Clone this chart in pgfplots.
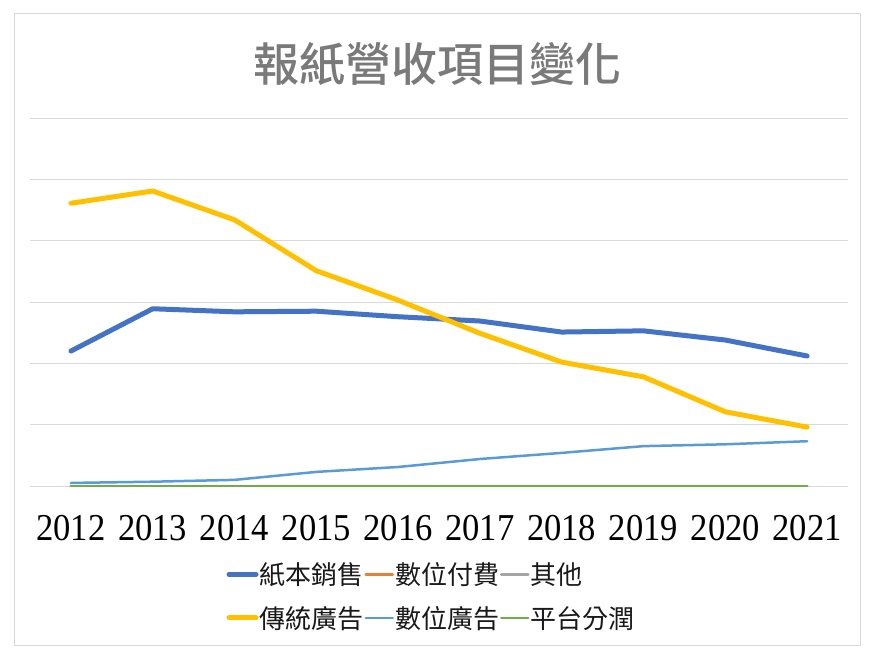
\documentclass[border=0pt]{standalone}
\usepackage{pgfplots}
\pgfplotsset{compat=1.18}
\usepackage{fontspec}
\setmainfont{Liberation Sans}
\newfontfamily\cjk{Noto Sans CJK TC}
\newfontfamily\cjkmed{Noto Sans CJK TC Medium}
\newfontfamily\tickfont{Liberation Serif}
\definecolor{xlBlue}{HTML}{4472C4}
\definecolor{xlOrange}{HTML}{ED7D31}
\definecolor{xlGray}{HTML}{A5A5A5}
\definecolor{xlYellow}{HTML}{FFC000}
\definecolor{xlLtBlue}{HTML}{5B9BD5}
\definecolor{xlGreen}{HTML}{70AD47}
\definecolor{gridc}{HTML}{D9D9D9}
\newcommand{\yr}[1]{\scalebox{0.91}[1]{#1}}
\begin{document}
\begin{tikzpicture}
% page and chart-area frame
\path[fill=white] (0pt,0pt) rectangle (873pt,-658pt);
\draw[gridc, line width=1pt] (14pt,-14pt) rectangle (860pt,-645pt);
\node[anchor=base, text=black!52, font=\cjkmed\fontsize{46}{50}\selectfont]
  at (437pt,-82pt) {報紙營收項目變化};
\begin{axis}[
    at={(30pt,-486pt)}, anchor=south west,
    scale only axis,
    width=818pt, height=368pt,
    xmin=-0.5, xmax=9.5,
    ymin=0, ymax=6,
    xtick={0,...,9},
    xticklabels={\yr{2012},\yr{2013},\yr{2014},\yr{2015},\yr{2016},\yr{2017},\yr{2018},\yr{2019},\yr{2020},\yr{2021}},
    xticklabel style={anchor=base, yshift=-54pt, font=\tickfont\fontsize{38}{40}\selectfont, text=black},
    ytick={0,...,6},
    yticklabels={},
    ymajorgrids=true,
    grid style={gridc, line width=1pt},
    axis line style={draw=none},
    major tick length=0pt,
    clip=false,
    legend columns=3,
    legend style={
        at={(0.240,-0.205)}, anchor=north west,
        draw=none, fill=none,
        font=\cjk\fontsize{26}{30}\selectfont,
        text=black!90,
        row sep=18pt,
        inner sep=0pt,
        nodes={inner sep=1pt},
        /tikz/every even column/.style={column sep=0pt},
    },
    legend cell align=left,
    legend image code/.code={\draw[#1, line cap=round] (0pt,0pt) -- (27pt,0pt);},
    every axis plot/.append style={line join=round, line cap=round},
]
% 紙本銷售
\addplot[color=xlBlue, line width=5pt] coordinates {
 (0,2.20)(1,2.89)(2,2.84)(3,2.85)(4,2.76)(5,2.69)(6,2.51)(7,2.53)(8,2.38)(9,2.12)};
% 數位付費
\addplot[color=xlOrange, line width=2.5pt] coordinates {
 (0,0)(1,0)(2,0)(3,0)(4,0)(5,0)(6,0)(7,0)(8,0)(9,0)};
% 其他
\addplot[color=xlGray, line width=2.5pt] coordinates {
 (0,0)(1,0)(2,0)(3,0)(4,0)(5,0)(6,0)(7,0)(8,0)(9,0)};
% 傳統廣告
\addplot[color=xlYellow, line width=5pt] coordinates {
 (0,4.61)(1,4.81)(2,4.34)(3,3.51)(4,3.03)(5,2.49)(6,2.02)(7,1.78)(8,1.21)(9,0.96)};
% 數位廣告
\addplot[color=xlLtBlue, line width=2.5pt] coordinates {
 (0,0.05)(1,0.07)(2,0.10)(3,0.23)(4,0.31)(5,0.44)(6,0.54)(7,0.65)(8,0.68)(9,0.73)};
% 平台分潤
\addplot[color=xlGreen, line width=2.5pt] coordinates {
 (0,0)(1,0)(2,0)(3,0)(4,0)(5,0)(6,0)(7,0)(8,0)(9,0)};
\legend{紙本銷售,數位付費,其他,傳統廣告,數位廣告,平台分潤}
\end{axis}
\end{tikzpicture}
\end{document}
